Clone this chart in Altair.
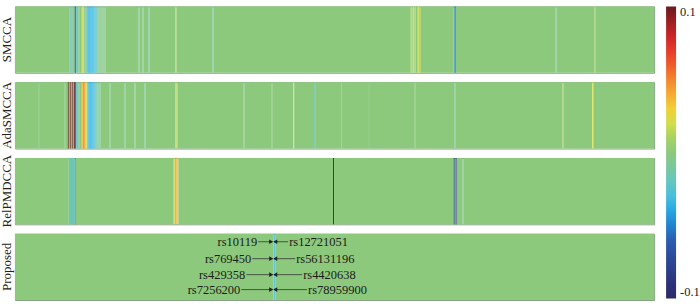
import altair as alt
import pandas as pd
import numpy as np

FONT = "Liberation Serif"
N_SNPS = 641

methods = ["SMCCA", "AdaSMCCA", "RelPMDCCA", "Proposed"]

# sparse SNP weights (index, weight); all other SNPs are 0
smcca_idx = [55, 56, 58, 60, 61, 64, 67, 68, 70, 72, 73, 74, 75, 76, 77, 78, 79, 80, 81, 82,
             84, 86, 88, 90, 124, 128, 134, 161, 198, 397, 399, 401, 404, 406, 440, 441, 542, 581]
smcca_w = [-0.015, -0.02, -0.03, -0.09, -0.03, -0.01, 0.014, 0.022, -0.02, -0.03, -0.035, -0.036,
           -0.034, -0.03, -0.035, -0.032, -0.028, -0.024, -0.022, -0.02, -0.012, -0.01, -0.012,
           -0.008, -0.01, -0.008, -0.014, 0.012, -0.008, 0.016, 0.024, 0.015, 0.024, 0.012,
           -0.03, -0.075, -0.02, 0.008]

ada_idx = [24, 50, 53, 54, 55, 56, 57, 58, 59, 60, 61, 64, 67, 68, 69, 70, 71, 73, 74, 75, 76,
           77, 78, 79, 80, 81, 83, 85, 95, 110, 120, 130, 161, 162, 229, 257, 279, 300, 327, 355,
           401, 441, 549, 579]
ada_w = [-0.01, -0.006, 0.1, 0.006, 0.1, 0.01, 0.1, 0.006, 0.1, -0.1, -0.03, -0.02, 0.035,
         0.045, 0.045, 0.04, 0.025, -0.03, -0.035, -0.036, -0.035, -0.033, -0.03, -0.028, -0.025,
         -0.02, -0.012, -0.008, -0.008, -0.01, -0.006, -0.01, 0.014, 0.01, -0.005, -0.005, 0.026,
         -0.014, 0.012, 0.004, 0.004, -0.012, 0.009, 0.024]

rel_idx = [54, 55, 56, 57, 58, 59, 60, 159, 160, 161, 162, 163, 319, 440, 441, 442, 449]
rel_w = [-0.016, -0.016, -0.016, -0.016, -0.016, -0.016, -0.045, 0.008, 0.03, 0.055, 0.03,
         0.008, -0.095, -0.1, -0.03, -0.1, -0.012]

prop_idx = [259, 260]
prop_w = [0.04, -0.035]

sparse = {
    "SMCCA": (smcca_idx, smcca_w),
    "AdaSMCCA": (ada_idx, ada_w),
    "RelPMDCCA": (rel_idx, rel_w),
    "Proposed": (prop_idx, prop_w),
}

# annotation labels in the Proposed panel
left_labels = ["rs10119", "rs769450", "rs429358", "rs7256200"]
right_labels = ["rs12721051", "rs56131196", "rs4420638", "rs78959900"]

# colour map (value stops -> colours)
cmap_stops = [-0.1, -0.09, -0.075, -0.06, -0.045, -0.035, -0.025, -0.013, -0.002, 0.005,
              0.013, 0.025, 0.037, 0.048, 0.06, 0.074, 0.088, 0.1]
cmap_colors = ["#2B2A66", "#2C3278", "#2B4594", "#2A5DB0", "#2394DA", "#36B8E8", "#5EC4D0",
               "#78C6A8", "#8CC97E", "#8FCA7A", "#B8D558", "#E9E43E", "#F4B436", "#F38E2F",
               "#EE5C2B", "#E3292A", "#A41E22", "#681B1D"]


def segments(idx, w):
    dense = np.zeros(N_SNPS)
    dense[np.array(idx, dtype=int)] = w
    rows = []
    start = 0
    for i in range(1, N_SNPS + 1):
        if i == N_SNPS or dense[i] != dense[start]:
            rows.append({"start": start, "end": i, "w": float(dense[start])})
            start = i
    return pd.DataFrame(rows)


color_scale = alt.Scale(domain=cmap_stops, range=cmap_colors, clamp=True)
legend = alt.Legend(
    title=None, orient="right", direction="vertical", gradientLength=293,
    gradientThickness=10, gradientStrokeWidth=0, values=[-0.1, 0.1],
    labelExpr="'' + datum.value", labelFont=FONT, labelFontSize=12.5,
    labelColor="#222", labelOffset=4, offset=11, labelBaseline="middle",
)

W, H = 641, 66.5
xscale = alt.Scale(domain=[0, N_SNPS], nice=False, zero=False)

# annotation geometry (in SNP-index units and panel pixel rows)
row_y = [8, 25, 41, 56]
left_end = [244, 238, 232, 227]
right_start = [274, 281, 288, 293]
left_tip = 257
right_tip = 261

panels = []
for m in methods:
    idx, w = sparse[m]
    seg = segments(idx, w)
    rect = alt.Chart(seg).mark_rect(strokeWidth=0).encode(
        x=alt.X("start:Q", scale=xscale, axis=None),
        x2="end:Q",
        color=alt.Color("w:Q", scale=color_scale, legend=legend),
    )
    layers = [rect]
    if m == "Proposed":
        ann = pd.DataFrame({
            "left": left_labels, "right": right_labels, "y": row_y,
            "lend": left_end, "rstart": right_start,
            "ltip": [left_tip] * 4, "rtip": [right_tip] * 4,
        })
        yscale = alt.Scale(domain=[H, 0], nice=False, zero=False)
        base = alt.Chart(ann)
        ltext = base.mark_text(align="right", baseline="middle", font=FONT, fontSize=12.5,
                               color="#1b1b1b", dx=-1).encode(
            x=alt.X("lend:Q", scale=xscale, axis=None),
            y=alt.Y("y:Q", scale=yscale, axis=None), text="left:N")
        rtext = base.mark_text(align="left", baseline="middle", font=FONT, fontSize=12.5,
                               color="#1b1b1b", dx=1).encode(
            x=alt.X("rstart:Q", scale=xscale, axis=None),
            y=alt.Y("y:Q", scale=yscale, axis=None), text="right:N")
        lline = base.mark_rule(color="#333", strokeWidth=0.8).encode(
            x=alt.X("lend:Q", scale=xscale, axis=None), x2="ltip:Q",
            y=alt.Y("y:Q", scale=yscale, axis=None))
        rline = base.mark_rule(color="#333", strokeWidth=0.8).encode(
            x=alt.X("rstart:Q", scale=xscale, axis=None), x2="rtip:Q",
            y=alt.Y("y:Q", scale=yscale, axis=None))
        lhead = base.mark_point(shape="triangle-right", filled=True, size=22, color="#222",
                                opacity=1, dx=-2).encode(
            x=alt.X("ltip:Q", scale=xscale, axis=None),
            y=alt.Y("y:Q", scale=yscale, axis=None))
        rhead = base.mark_point(shape="triangle-left", filled=True, size=22, color="#222",
                                opacity=1).encode(
            x=alt.X("rtip:Q", scale=xscale, axis=None),
            y=alt.Y("y:Q", scale=yscale, axis=None))
        layers += [lline, rline, lhead, rhead, ltext, rtext]
    p = alt.layer(*layers).properties(
        width=W, height=H,
        title=alt.TitleParams(m, orient="left", anchor="middle", font=FONT, fontSize=13,
                              fontWeight="normal", color="#222", offset=1),
    )
    panels.append(p)

chart = alt.vconcat(*panels, spacing=9, bounds="flush").properties(
    padding={"left": 0, "top": 5, "right": 0, "bottom": 0},
    background="white",
).configure_view(stroke="#7f9f7d", strokeWidth=1)

chart.save("out.html", embed_options={"renderer": "svg", "actions": False})
